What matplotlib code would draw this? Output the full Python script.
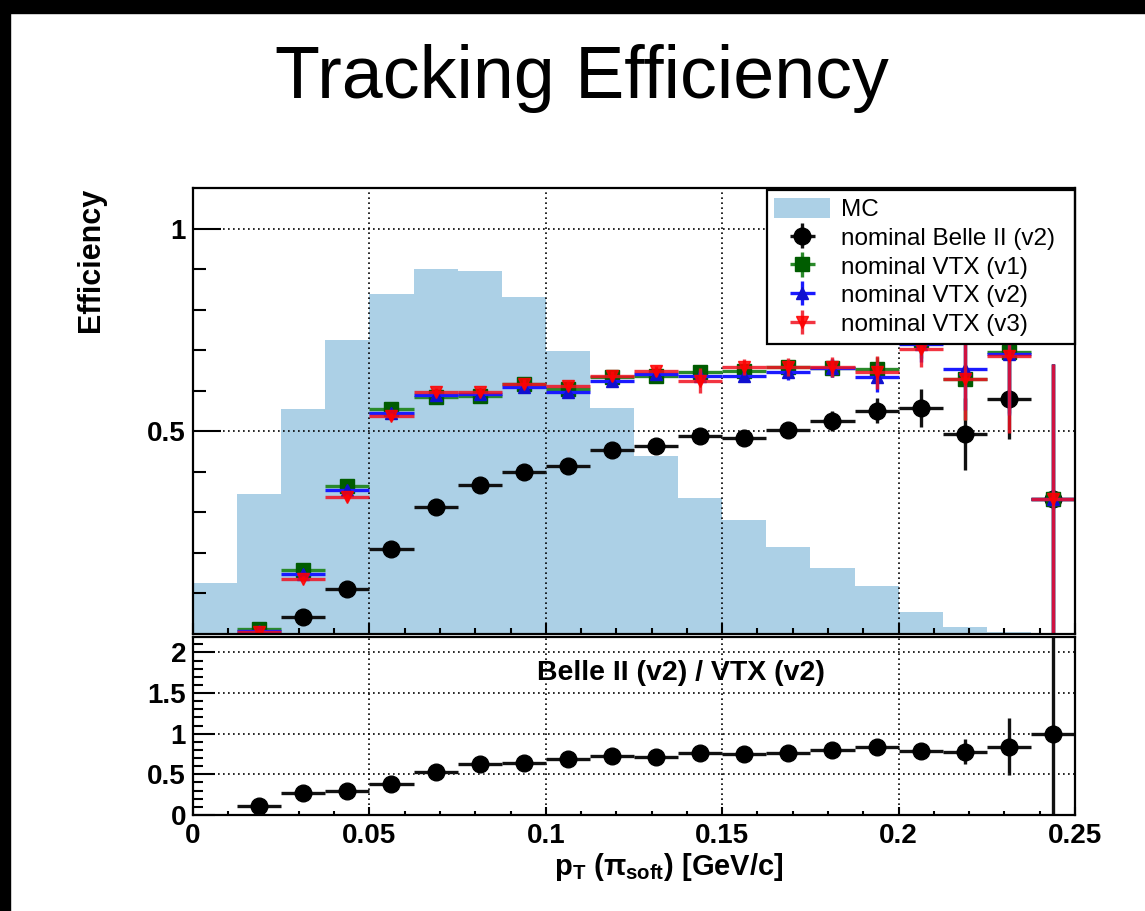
import numpy as np
import matplotlib
matplotlib.use("Agg")
import matplotlib.pyplot as plt
from matplotlib.patches import Rectangle, Patch
from matplotlib.ticker import FixedLocator

plt.rcParams['font.family'] = ['Liberation Sans', 'DejaVu Sans']
plt.rcParams['mathtext.fontset'] = 'custom'
plt.rcParams['mathtext.rm'] = 'Liberation Sans:bold'
plt.rcParams['mathtext.it'] = 'Liberation Sans:bold'
plt.rcParams['mathtext.bf'] = 'Liberation Sans:bold'

# ---------------- data ----------------
bin_edges = np.linspace(0.0, 0.25, 21)
mc_hist = [0.126, 0.346, 0.555, 0.726, 0.838, 0.900, 0.896, 0.830, 0.697, 0.557,
           0.440, 0.336, 0.280, 0.214, 0.163, 0.118, 0.054, 0.017, 0.004, 0.0]

nan = np.nan
eff_belle2 = [nan, 0.001, 0.043, 0.110, 0.210, 0.313, 0.368, 0.399, 0.415, 0.455,
              0.463, 0.488, 0.483, 0.504, 0.526, 0.551, 0.557, 0.493, 0.580, 0.333]
err_belle2 = [0, 0.002, 0.004, 0.005, 0.006, 0.007, 0.008, 0.009, 0.010, 0.011,
              0.012, 0.013, 0.015, 0.017, 0.025, 0.031, 0.047, 0.088, 0.100, 0.333]

eff_vtx1 = [nan, 0.012, 0.157, 0.366, 0.555, 0.584, 0.586, 0.617, 0.604, 0.633,
            0.637, 0.647, 0.649, 0.658, 0.656, 0.653, 0.725, 0.629, 0.695, 0.333]
err_vtx1 = [0, 0.004, 0.006, 0.008, 0.009, 0.010, 0.010, 0.011, 0.011, 0.012,
            0.013, 0.015, 0.016, 0.018, 0.022, 0.030, 0.045, 0.100, 0.150, 0.333]

eff_vtx2 = [nan, 0.008, 0.147, 0.356, 0.544, 0.590, 0.592, 0.608, 0.596, 0.625,
            0.641, 0.637, 0.637, 0.645, 0.656, 0.633, 0.715, 0.653, 0.690, 0.333]
err_vtx2 = [0, 0.004, 0.006, 0.008, 0.009, 0.010, 0.010, 0.011, 0.011, 0.012,
            0.013, 0.015, 0.016, 0.018, 0.022, 0.035, 0.045, 0.100, 0.150, 0.333]

eff_vtx3 = [nan, 0.006, 0.136, 0.337, 0.537, 0.596, 0.596, 0.617, 0.612, 0.637,
            0.649, 0.625, 0.658, 0.658, 0.658, 0.645, 0.703, 0.629, 0.686, 0.333]
err_vtx3 = [0, 0.004, 0.006, 0.008, 0.009, 0.010, 0.010, 0.011, 0.011, 0.012,
            0.013, 0.030, 0.020, 0.022, 0.025, 0.040, 0.045, 0.100, 0.190, 0.333]

ratio = [nan, 0.115, 0.275, 0.295, 0.377, 0.525, 0.623, 0.643, 0.684, 0.725,
         0.709, 0.758, 0.750, 0.758, 0.799, 0.832, 0.787, 0.779, 0.840, 1.000]
ratio_err = [0, 0.02, 0.02, 0.02, 0.02, 0.02, 0.02, 0.02, 0.02, 0.02,
             0.02, 0.025, 0.03, 0.03, 0.04, 0.05, 0.07, 0.15, 0.35, 2.5]

x_ticks = [0, 0.05, 0.1, 0.15, 0.2, 0.25]
x_ticklabels = ["0", "0.05", "0.1", "0.15", "0.2", "0.25"]
y_main_ticks = [0.5, 1.0]
y_ratio_ticks = [0, 0.5, 1, 1.5, 2]
y_ratio_labels = ["0", "0.5", "1", "1.5", "2"]

# ---------------- figure ----------------
W, H = 1145, 911
fig = plt.figure(figsize=(W / 100, H / 100), dpi=100)

# slide border
fig.patches.append(Rectangle((0, 1 - 13 / H), 1, 13 / H, transform=fig.transFigure,
                             color='black', zorder=10))
fig.patches.append(Rectangle((0, 0), 9.5 / W, 1, transform=fig.transFigure,
                             color='black', zorder=10))

fig.text(582 / W, 1 - 98 / H, "Tracking Efficiency", ha='center', va='baseline',
         fontsize=53, color='black')

def px_axes(l, t, r, b):
    return fig.add_axes([l / W, 1 - b / H, (r - l) / W, (b - t) / H])

ax = px_axes(193, 188, 1075, 634)
axr = px_axes(193, 637, 1075, 815)

centers = 0.5 * (bin_edges[:-1] + bin_edges[1:])
halfw = 0.5 * (bin_edges[1] - bin_edges[0])

mc_color = '#acd0e6'
ax.stairs(mc_hist, bin_edges, fill=True, color=mc_color, zorder=1, label='MC')

grid_kw = dict(color='black', linestyle=(0, (1, 2)), linewidth=1.2, zorder=1.5)
for a in (ax, axr):
    for xv in x_ticks[1:]:
        a.axvline(xv, **grid_kw)
for yv in y_main_ticks:
    ax.axhline(yv, **grid_kw)
for yv in y_ratio_ticks[1:]:
    axr.axhline(yv, **grid_kw)

def draw(a, y, e, marker, mcol, lcol, ms, label=None, z=3, alpha=1.0):
    return a.errorbar(centers, y, xerr=halfw, yerr=e, fmt=marker, color=lcol,
                      mfc=mcol, mec=mcol, ms=ms, elinewidth=2.4, capsize=0,
                      zorder=z, label=label, alpha=alpha)

h_b = draw(ax, eff_belle2, err_belle2, 'o', 'black', '#111111', 12,
           'nominal Belle II (v2)', z=3)
h_g = draw(ax, eff_vtx1, err_vtx1, 's', '#005c00', '#2a8a2a', 10.5,
           'nominal VTX (v1)', z=4)
h_bl = draw(ax, eff_vtx2, err_vtx2, '^', '#1010d0', '#1a1aff', 9,
            'nominal VTX (v2)', z=5)
h_r = draw(ax, eff_vtx3, err_vtx3, 'v', '#ff0000', '#f01020', 9,
           'nominal VTX (v3)', z=6, alpha=0.85)

draw(axr, ratio, ratio_err, 'o', 'black', '#111111', 12, z=3)

ax.set_xlim(0, 0.25)
axr.set_xlim(0, 0.25)
ax.set_ylim(0.0, 1.1)
axr.set_ylim(0.0, 2.19)

for a in (ax, axr):
    for s in a.spines.values():
        s.set_linewidth(1.6)
        s.set_zorder(20)
    a.set_xticks(x_ticks)
    a.xaxis.set_minor_locator(FixedLocator(np.arange(0.01, 0.25, 0.01)))

ax.set_xticklabels([])
axr.set_xticklabels(x_ticklabels)

ax.set_yticks(y_main_ticks)
ax.set_yticklabels(["0.5", "1"])
ax.yaxis.set_minor_locator(FixedLocator([0.1, 0.2, 0.3, 0.4, 0.6, 0.7, 0.8, 0.9]))
axr.set_yticks(y_ratio_ticks)
axr.set_yticklabels(y_ratio_labels)
axr.yaxis.set_minor_locator(FixedLocator(np.arange(0.1, 2.15, 0.1)))

ax.tick_params(axis='y', which='major', direction='in', length=20, width=1.5,
               labelsize=20, pad=5)
ax.tick_params(axis='y', which='minor', direction='in', length=9.5, width=1.5)
ax.tick_params(axis='x', which='major', direction='in', length=8, width=1.5)
ax.tick_params(axis='x', which='minor', direction='in', length=4, width=1.5)
axr.tick_params(axis='y', which='major', direction='in', length=16, width=1.5,
                labelsize=20, pad=5)
axr.tick_params(axis='y', which='minor', direction='in', length=7, width=1.5)
axr.tick_params(axis='x', which='major', direction='in', length=6, width=1.5,
                labelsize=20, pad=6)
axr.tick_params(axis='x', which='minor', direction='in', length=3, width=1.5)
for a in (ax, axr):
    for lab in a.get_xticklabels() + a.get_yticklabels():
        lab.set_fontweight('bold')

ax.set_ylabel("Efficiency", fontsize=22, fontweight='bold', loc='top', labelpad=30)

fig.text(669 / W, 1 - 875 / H, r"p$_{T}$ ($\pi_{soft}$) [GeV/c]", ha='center',
         va='baseline', fontsize=21, fontweight='bold')

axr.text(0.553, 0.80, "Belle II (v2) / VTX (v2)", transform=axr.transAxes,
         ha='center', va='center', fontsize=20.5, fontweight='bold', zorder=10)

mc_handle = Patch(facecolor=mc_color, edgecolor='none', label='MC')
leg = ax.legend(handles=[mc_handle, h_b, h_g, h_bl, h_r], loc='upper left',
                bbox_to_anchor=(0.651, 0.995, 0.349, 0.0), mode='expand',
                borderaxespad=0, fontsize=17.5,
                frameon=True, fancybox=False, edgecolor='black', framealpha=1,
                handlelength=2.3, handletextpad=0.45, borderpad=0.3,
                labelspacing=0.22, handleheight=0.9)
leg.get_frame().set_linewidth(1.6)
leg.set_zorder(15)

fig.savefig("out.png", dpi=100)
